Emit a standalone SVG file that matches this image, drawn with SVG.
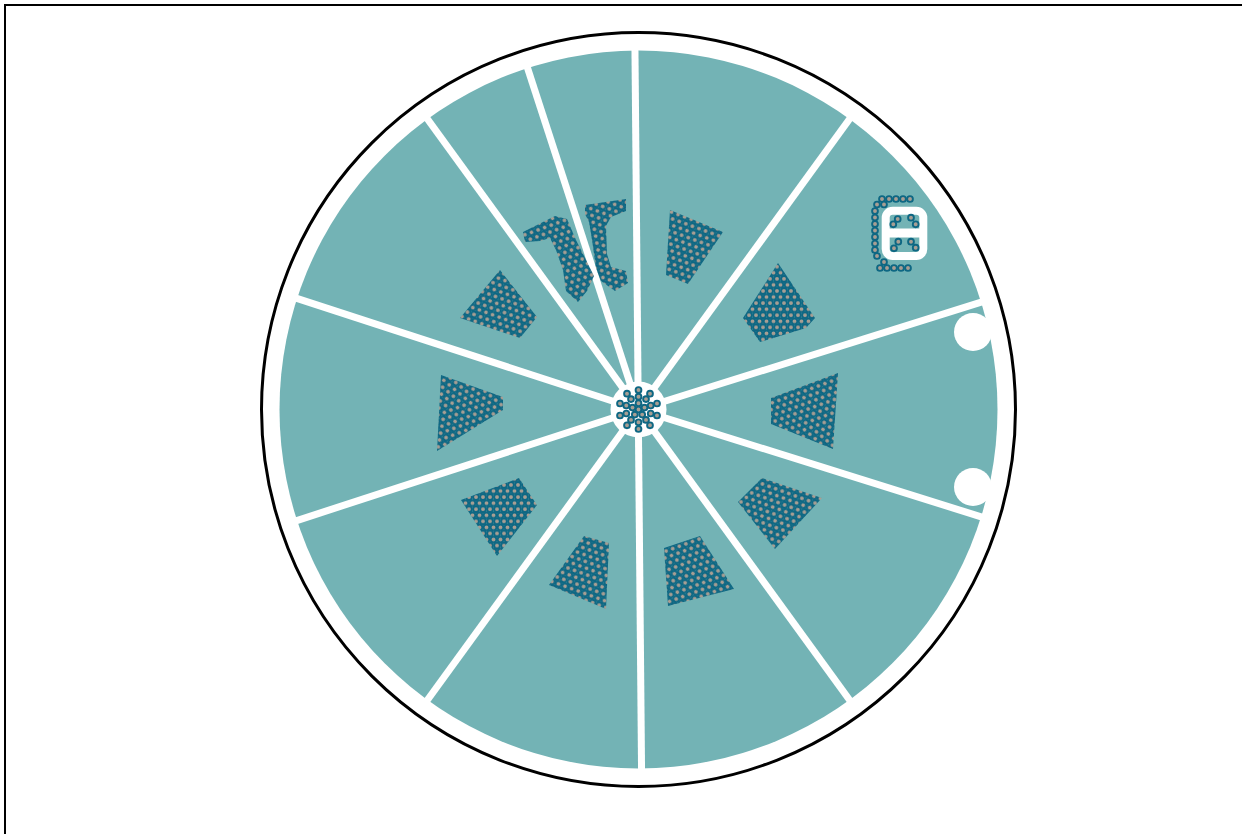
<svg xmlns="http://www.w3.org/2000/svg" width="1242" height="834" viewBox="0 0 1242 834">
<style>
.d{fill:#A89E93;stroke:#0E6783;stroke-width:1.9}
.gap{stroke:#fff;stroke-width:7;fill:none}
</style>
<defs>
<pattern id="p0" width="7" height="12.124" patternUnits="userSpaceOnUse">
<circle class="d" cx="0" cy="0" r="2.9"/><circle class="d" cx="7" cy="0" r="2.9"/><circle class="d" cx="0" cy="12.124" r="2.9"/><circle class="d" cx="7" cy="12.124" r="2.9"/><circle class="d" cx="3.5" cy="6.062" r="2.9"/>
</pattern>
<pattern id="p1" width="7" height="12.124" patternUnits="userSpaceOnUse" patternTransform="rotate(20)">
<circle class="d" cx="0" cy="0" r="2.9"/><circle class="d" cx="7" cy="0" r="2.9"/><circle class="d" cx="0" cy="12.124" r="2.9"/><circle class="d" cx="7" cy="12.124" r="2.9"/><circle class="d" cx="3.5" cy="6.062" r="2.9"/>
</pattern>
<pattern id="p2" width="7" height="12.124" patternUnits="userSpaceOnUse" patternTransform="rotate(40)">
<circle class="d" cx="0" cy="0" r="2.9"/><circle class="d" cx="7" cy="0" r="2.9"/><circle class="d" cx="0" cy="12.124" r="2.9"/><circle class="d" cx="7" cy="12.124" r="2.9"/><circle class="d" cx="3.5" cy="6.062" r="2.9"/>
</pattern>
</defs>
<rect width="1242" height="834" fill="#fff"/>
<path d="M5,834 V5 H1242" fill="none" stroke="#000" stroke-width="2"/>
<g id="plate">
<circle cx="638.5" cy="409.5" r="377" fill="#fff" stroke="#000" stroke-width="3"/>
<circle cx="638.5" cy="409.5" r="359" fill="#73B3B5"/>
</g>
<g id="gaps">
<line class="gap" x1="634.9" y1="44" x2="641.6" y2="775"/>
<line class="gap" x1="638.5" y1="409.5" x2="986.8" y2="300.4"/>
<line class="gap" x1="638.5" y1="409.5" x2="853" y2="114.2"/>
<line class="gap" x1="638.5" y1="409.5" x2="525.7" y2="62.4"/>
<line class="gap" x1="638.5" y1="409.5" x2="424" y2="114.2"/>
<line class="gap" x1="638.5" y1="409.5" x2="291.4" y2="296.7"/>
<line class="gap" x1="638.5" y1="409.5" x2="291.4" y2="522.3"/>
<line class="gap" x1="638.5" y1="409.5" x2="424" y2="704.8"/>
<line class="gap" x1="638.5" y1="409.5" x2="853" y2="704.8"/>
<line class="gap" x1="638.5" y1="409.5" x2="986.8" y2="518.6"/>
<circle cx="638.5" cy="409.5" r="28" fill="#fff"/>
<circle cx="973" cy="332" r="19" fill="#fff"/>
<circle cx="973" cy="487" r="19" fill="#fff"/>
</g>
<g id="s1"><polygon points="670,210 723,232 688,284 666,275" fill="url(#p1)"/></g>
<g id="s2"><polygon points="778,263 815,318 806,328 760,342 743,318" fill="url(#p0)"/></g>
<g id="s3"><polygon points="838,373 771,398 771,424 833,449" fill="url(#p2)"/></g>
<g id="s4"><polygon points="762,478 738,502 775,549 822,498" fill="url(#p1)"/></g>
<g id="s5"><polygon points="700,536 664,548 668,606 734,589" fill="url(#p2)"/></g>
<g id="s6"><polygon points="584,536 549,585 606,609 609,543" fill="url(#p1)"/></g>
<g id="s7"><polygon points="461,500 519,478 537,505 497,556" fill="url(#p0)"/></g>
<g id="s8"><polygon points="441,375 503,397 503,410 437,451" fill="url(#p2)"/></g>
<g id="s9"><polygon points="500,270 460,318 520,338 537,317" fill="url(#p1)"/></g>
<g id="s10"><polygon points="523,232 555,216 567,219 576,240 587,262 594,276 587,291 578,302 566,291 563,270 556,250 550,238 540,241 525,242" fill="url(#p2)"/></g>
<g id="s11"><polygon points="585,205 626,199 626,211 611,217 606,226 607,254 611,267 626,271 628,283 615,291 601,281 596,268 592,240 589,222 585,214" fill="url(#p1)"/></g>
<g id="s12">
<rect x="885.7" y="210.7" width="37.6" height="45.3" rx="7" fill="none" stroke="#fff" stroke-width="8"/>
<line x1="886" y1="233" x2="923" y2="233" stroke="#fff" stroke-width="9"/>
<circle class="d" cx="893.3" cy="224.3" r="2.9"/><circle class="d" cx="897.7" cy="219" r="2.9"/><circle class="d" cx="911" cy="217.7" r="2.9"/><circle class="d" cx="915.7" cy="224.3" r="2.9"/>
<circle class="d" cx="898.3" cy="241.7" r="2.9"/><circle class="d" cx="894" cy="248.3" r="2.9"/><circle class="d" cx="911" cy="241.7" r="2.9"/><circle class="d" cx="915.7" cy="247.7" r="2.9"/>
<circle class="d" cx="882" cy="199" r="2.9"/><circle class="d" cx="889" cy="199" r="2.9"/><circle class="d" cx="896" cy="199" r="2.9"/><circle class="d" cx="903" cy="199" r="2.9"/><circle class="d" cx="910" cy="199" r="2.9"/>
<circle class="d" cx="877" cy="204.5" r="2.9"/><circle class="d" cx="884" cy="204.5" r="2.9"/>
<circle class="d" cx="875" cy="211" r="2.9"/><circle class="d" cx="875" cy="217.5" r="2.9"/><circle class="d" cx="875" cy="224" r="2.9"/><circle class="d" cx="875" cy="230.5" r="2.9"/><circle class="d" cx="875" cy="237" r="2.9"/><circle class="d" cx="875" cy="243.5" r="2.9"/><circle class="d" cx="875" cy="250" r="2.9"/>
<circle class="d" cx="877" cy="256" r="2.9"/><circle class="d" cx="884" cy="262" r="2.9"/>
<circle class="d" cx="880" cy="268" r="2.9"/><circle class="d" cx="887" cy="268" r="2.9"/><circle class="d" cx="894" cy="268" r="2.9"/><circle class="d" cx="901" cy="268" r="2.9"/><circle class="d" cx="908" cy="268" r="2.9"/>
</g>
<g id="center">
<circle class="d" cx="638.5" cy="409.5" r="2.9"/>
<circle class="d" cx="638.5" cy="403.2" r="2.9"/><circle class="d" cx="632.5" cy="407.6" r="2.9"/><circle class="d" cx="634.8" cy="414.6" r="2.9"/><circle class="d" cx="642.2" cy="414.6" r="2.9"/><circle class="d" cx="644.5" cy="407.6" r="2.9"/>
<circle class="d" cx="650.7" cy="405.5" r="2.9"/><circle class="d" cx="646" cy="399.1" r="2.9"/><circle class="d" cx="638.5" cy="396.7" r="2.9"/><circle class="d" cx="631" cy="399.1" r="2.9"/><circle class="d" cx="626.3" cy="405.5" r="2.9"/><circle class="d" cx="626.3" cy="413.5" r="2.9"/><circle class="d" cx="631" cy="419.9" r="2.9"/><circle class="d" cx="638.5" cy="422.3" r="2.9"/><circle class="d" cx="646" cy="419.9" r="2.9"/><circle class="d" cx="650.7" cy="413.5" r="2.9"/>
<circle class="d" cx="657" cy="403.5" r="2.9"/><circle class="d" cx="650" cy="393.7" r="2.9"/><circle class="d" cx="638.5" cy="390" r="2.9"/><circle class="d" cx="627" cy="393.7" r="2.9"/><circle class="d" cx="620" cy="403.5" r="2.9"/><circle class="d" cx="620" cy="415.5" r="2.9"/><circle class="d" cx="627" cy="425.3" r="2.9"/><circle class="d" cx="638.5" cy="429" r="2.9"/><circle class="d" cx="650" cy="425.3" r="2.9"/><circle class="d" cx="657" cy="415.5" r="2.9"/>
</g>
</svg>
